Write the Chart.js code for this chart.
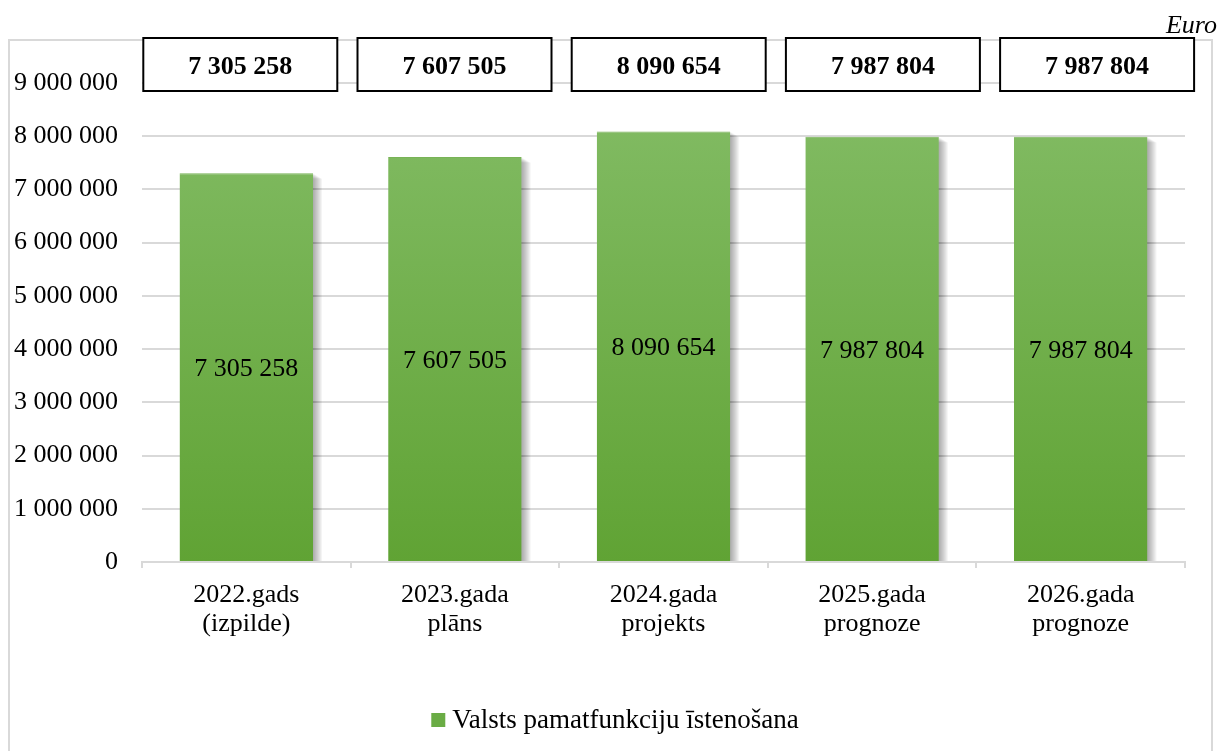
<!DOCTYPE html>
<html>
<head>
<meta charset="utf-8">
<script src="https://cdn.jsdelivr.net/npm/chart.js@4.4.1/dist/chart.umd.min.js"></script>
<style>
    html, body { margin: 0; padding: 0; background: #ffffff; }
    #wrap { position: relative; width: 1220px; height: 751px; }
</style>
</head>
<body>
<div id="wrap"><canvas id="budgetChart" width="1220" height="751"></canvas></div>
<script>
// ===========================
// DATA
// ===========================
const categories = [
    ['2022.gads', '(izpilde)'],
    ['2023.gada', 'plāns'],
    ['2024.gada', 'projekts'],
    ['2025.gada', 'prognoze'],
    ['2026.gada', 'prognoze']
];
const seriesLabel = 'Valsts pamatfunkciju īstenošana';
const seriesValues = [7305258, 7607505, 8090654, 7987804, 7987804];
// totals shown in the framed boxes above the chart
const boxValues = [7305258, 7607505, 8090654, 7987804, 7987804];
const yTicks = [0, 1000000, 2000000, 3000000, 4000000, 5000000, 6000000, 7000000, 8000000, 9000000];
const unitLabel = 'Euro';

const FONT = '"Liberation Serif", "Times New Roman", serif';
const LEGEND_GREEN = '#6aac45';

// 7305258 -> "7 305 258"
function fmt(v) {
    return String(v).replace(/\B(?=(\d{3})+(?!\d))/g, ' ');
}

// Outer frame, unit text and legend
const framePlugin = {
    id: 'frame',
    beforeDraw(chart) {
        const ctx = chart.ctx;
        ctx.save();
        ctx.strokeStyle = '#d9d9d9';
        ctx.lineWidth = 2;
        ctx.strokeRect(9, 40, 1203, 730);
        ctx.fillStyle = '#000';
        ctx.font = 'italic 26px ' + FONT;
        ctx.textAlign = 'right';
        ctx.textBaseline = 'middle';
        ctx.fillText(unitLabel, 1217, 26);
        ctx.restore();
    },
    afterDraw(chart) {
        // legend centred under the frame
        const ctx = chart.ctx;
        ctx.save();
        ctx.font = '27px ' + FONT;
        const tw = ctx.measureText(seriesLabel).width;
        const box = 14, gap = 7;
        const total = box + gap + tw;
        const left = 615 - total / 2;
        const cy = 720;
        ctx.fillStyle = LEGEND_GREEN;
        ctx.fillRect(left, cy - box / 2, box, box);
        ctx.fillStyle = '#000';
        ctx.textAlign = 'left';
        ctx.textBaseline = 'middle';
        ctx.fillText(seriesLabel, left + box + gap, cy + 1);
        ctx.restore();
    }
};

// Soft shadow to the right of the bars (layered translucent rects)
const shadowPlugin = {
    id: 'barShadow',
    beforeDatasetsDraw(chart) {
        const ctx = chart.ctx;
        const meta = chart.getDatasetMeta(0);
        ctx.save();
        meta.data.forEach(bar => {
            const half = bar.width / 2;
            for (let k = 1; k <= 9; k++) {
                ctx.fillStyle = 'rgba(0,0,0,0.045)';
                ctx.fillRect(bar.x - half + k, bar.y + k * 0.6, bar.width, bar.base - bar.y - k * 0.6);
            }
        });
        ctx.restore();
    }
};

// Value labels inside bars + framed totals on top
const labelPlugin = {
    id: 'valueLabels',
    afterDatasetsDraw(chart) {
        const ctx = chart.ctx;
        const meta = chart.getDatasetMeta(0);
        const xScale = chart.scales.x;
        ctx.save();
        ctx.textAlign = 'center';
        ctx.textBaseline = 'middle';

        meta.data.forEach((bar, i) => {
            const mid = (bar.y + bar.base) / 2;
            ctx.fillStyle = '#000';
            ctx.font = '26px ' + FONT;
            ctx.fillText(fmt(seriesValues[i]), bar.x, mid + 2);
        });

        boxValues.forEach((v, i) => {
            const cx = xScale.getPixelForValue(i) + (i * 5.6 - 6);
            const w = 194, top = 38, h = 53;
            ctx.fillStyle = '#fff';
            ctx.fillRect(cx - w / 2, top, w, h);
            ctx.strokeStyle = '#000';
            ctx.lineWidth = 2;
            ctx.strokeRect(cx - w / 2, top, w, h);
            ctx.fillStyle = '#000';
            ctx.font = 'bold 26px ' + FONT;
            ctx.fillText(fmt(v), cx, top + h / 2 + 3);
        });
        ctx.restore();
    }
};

function barGradient(context) {
    const chart = context.chart;
    const area = chart.chartArea;
    if (!area) return '#70ad47';
    const g = chart.ctx.createLinearGradient(0, area.top + 45, 0, area.bottom);
    g.addColorStop(0, '#80ba61');
    g.addColorStop(1, '#60a334');
    return g;
}

new Chart(document.getElementById('budgetChart'), {
    type: 'bar',
    data: {
        labels: categories,
        datasets: [{
            label: seriesLabel,
            data: seriesValues,
            backgroundColor: barGradient,
            borderColor: '#78b356',
            borderWidth: { top: 1, left: 0, right: 0, bottom: 0 },
            borderSkipped: false,
            barPercentage: 0.64,
            categoryPercentage: 1.0
        }]
    },
    options: {
        responsive: false,
        animation: false,
        devicePixelRatio: 1,
        layout: { padding: { top: 83, right: 35, bottom: 54, left: 0 } },
        plugins: {
            legend: { display: false },
            tooltip: { enabled: false }
        },
        scales: {
            x: {
                grid: {
                    offset: true,
                    drawOnChartArea: false,
                    color: '#d9d9d9',
                    lineWidth: 2,
                    tickLength: 6
                },
                border: { display: true, color: '#d9d9d9', width: 2 },
                ticks: {
                    color: '#000',
                    font: { family: FONT, size: 26, lineHeight: 1.13 },
                    padding: 12,
                    maxRotation: 0,
                    autoSkip: false
                },
                afterFit(scale) { scale.height = 135; }
            },
            y: {
                min: 0,
                max: 9000000,
                afterBuildTicks(scale) {
                    scale.ticks = yTicks.map(v => ({ value: v }));
                },
                grid: {
                    color: '#d9d9d9',
                    lineWidth: 2,
                    drawTicks: false
                },
                border: { display: false },
                ticks: {
                    color: '#000',
                    font: { family: FONT, size: 26 },
                    padding: 24,
                    callback: v => fmt(v)
                },
                afterFit(scale) { scale.width = 142; }
            }
        }
    },
    plugins: [framePlugin, shadowPlugin, labelPlugin]
});
</script>
</body>
</html>
